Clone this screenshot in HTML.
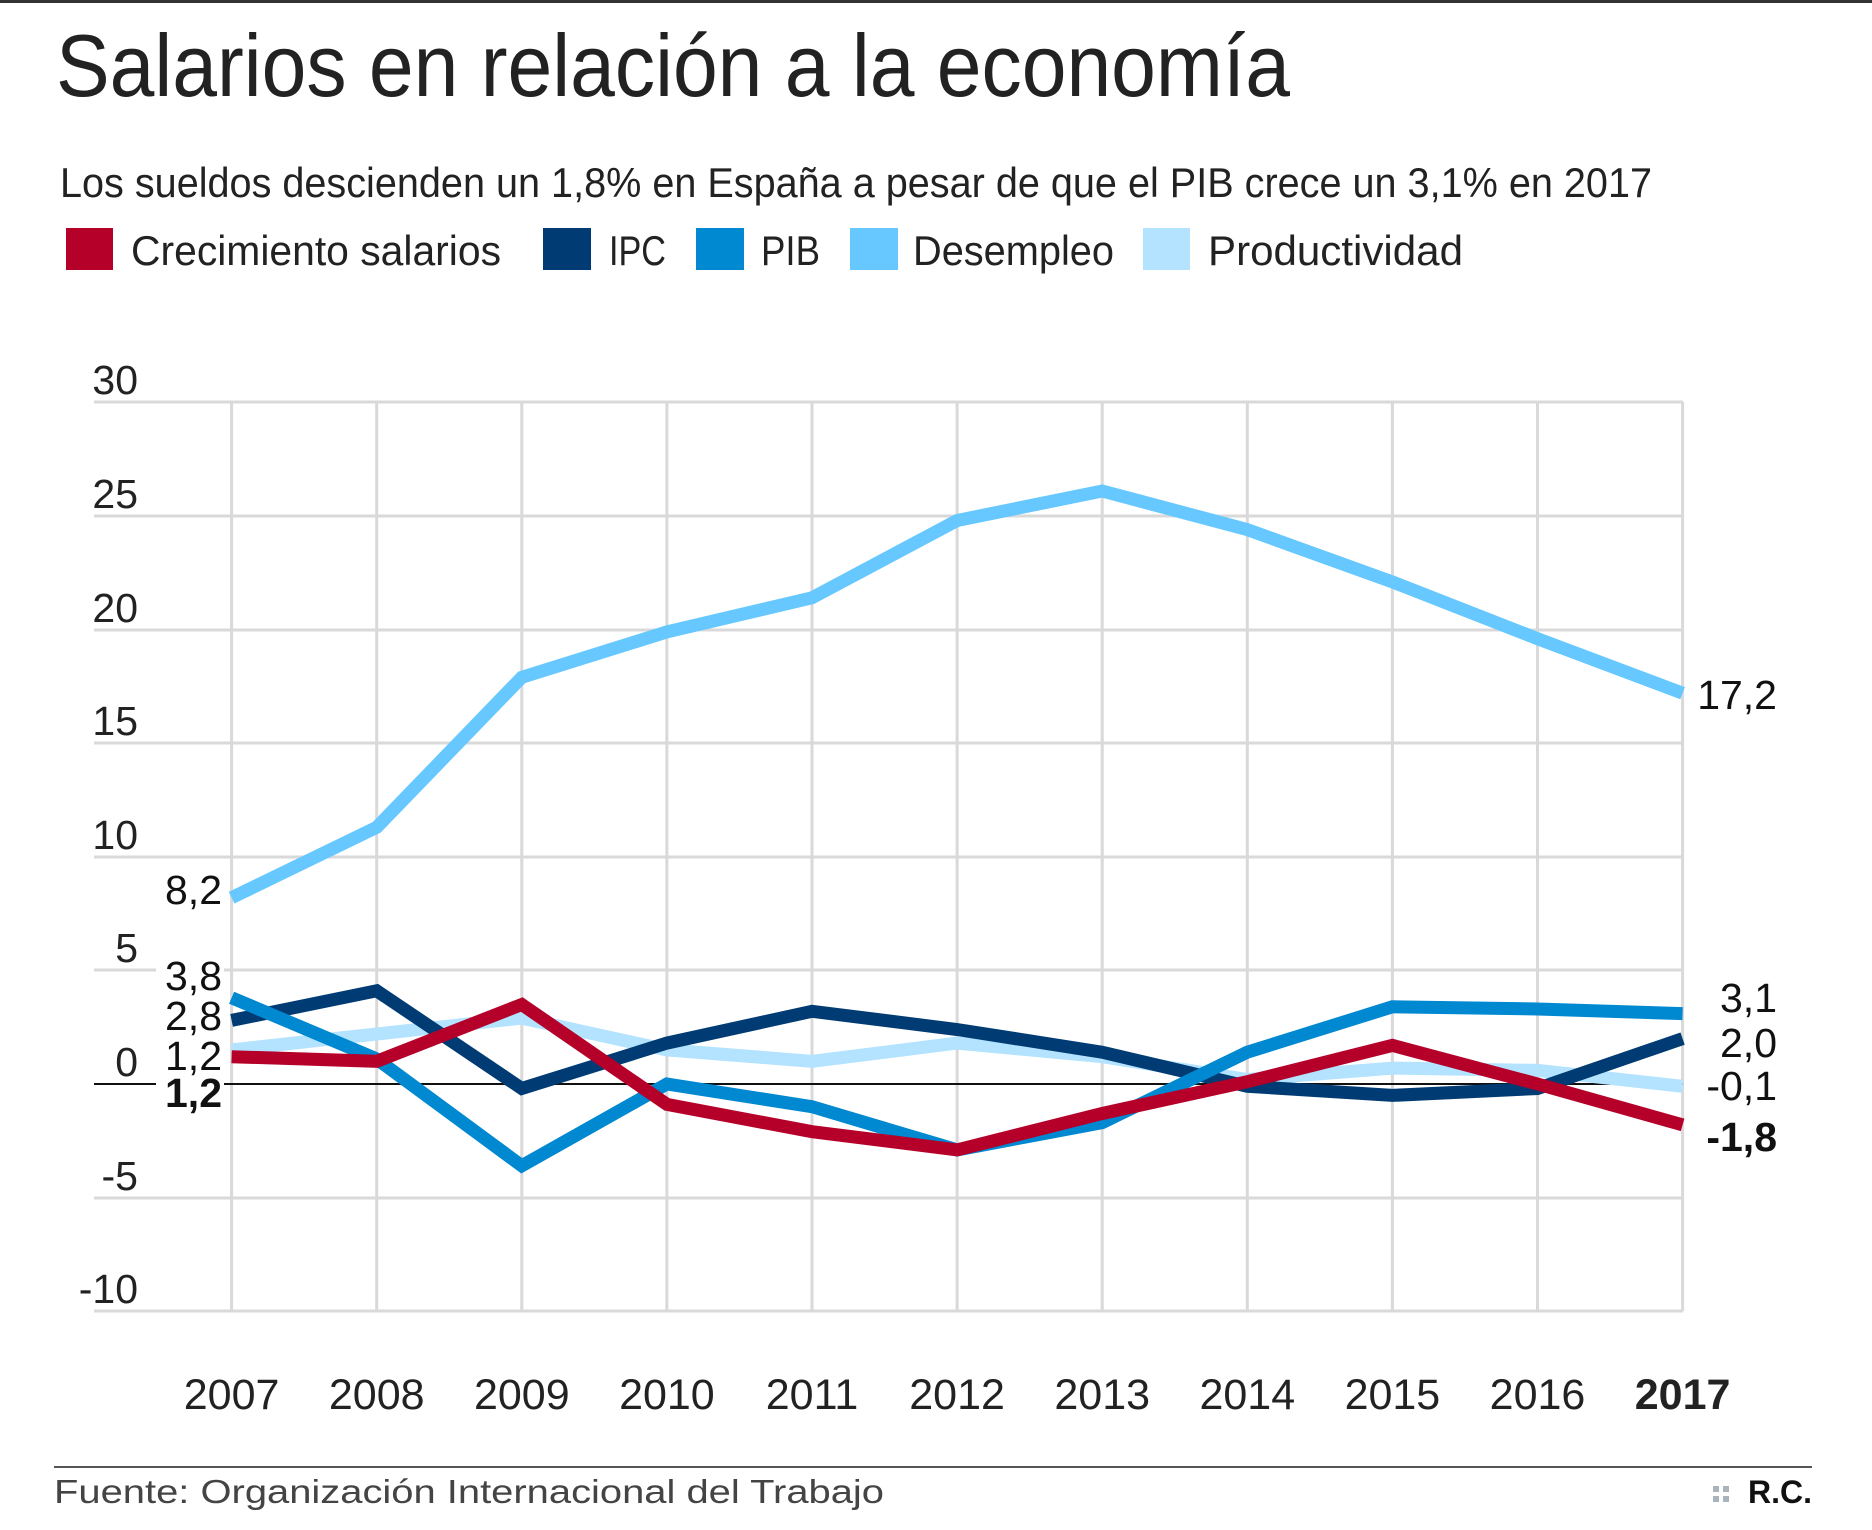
<!DOCTYPE html>
<html><head><meta charset="utf-8"><style>
html,body{margin:0;padding:0;background:#fff}
svg{display:block}
text{font-family:"Liberation Sans",sans-serif}
</style></head><body>
<svg width="1872" height="1530" viewBox="0 0 1872 1530" xmlns="http://www.w3.org/2000/svg">
<rect x="0" y="0" width="1872" height="3" fill="#333"/>
<text x="56" y="96" font-size="88" fill="#222" textLength="1234" lengthAdjust="spacingAndGlyphs">Salarios en relación a la economía</text>
<text x="60" y="197" font-size="42" fill="#222" textLength="1592" lengthAdjust="spacingAndGlyphs">Los sueldos descienden un 1,8% en España a pesar de que el PIB crece un 3,1% en 2017</text>
<g font-size="42" fill="#222">
<rect x="66" y="228" width="47" height="42" fill="#b5002a"/>
<text x="131" y="265" textLength="370" lengthAdjust="spacingAndGlyphs">Crecimiento salarios</text>
<rect x="543" y="228" width="48" height="42" fill="#003b73"/>
<text x="609" y="265" textLength="57" lengthAdjust="spacingAndGlyphs">IPC</text>
<rect x="696" y="228" width="48" height="42" fill="#0088d1"/>
<text x="761" y="265" textLength="59" lengthAdjust="spacingAndGlyphs">PIB</text>
<rect x="850" y="228" width="48" height="42" fill="#66c8ff"/>
<text x="913" y="265" textLength="201" lengthAdjust="spacingAndGlyphs">Desempleo</text>
<rect x="1143" y="228" width="47" height="42" fill="#b3e3ff"/>
<text x="1208" y="265" textLength="255" lengthAdjust="spacingAndGlyphs">Productividad</text>
</g>
<g stroke="#d9d9d9" stroke-width="3">
<line x1="94" y1="402" x2="1683" y2="402"/>
<line x1="94" y1="516" x2="1683" y2="516"/>
<line x1="94" y1="630" x2="1683" y2="630"/>
<line x1="94" y1="743" x2="1683" y2="743"/>
<line x1="94" y1="857" x2="1683" y2="857"/>
<line x1="94" y1="970" x2="156" y2="970"/><line x1="224" y1="970" x2="1683" y2="970"/>
<line x1="94" y1="1198" x2="1683" y2="1198"/>
<line x1="94" y1="1311" x2="1683" y2="1311"/>
<line x1="231.6" y1="402" x2="231.6" y2="1311"/>
<line x1="376.7" y1="402" x2="376.7" y2="1311"/>
<line x1="521.8" y1="402" x2="521.8" y2="1311"/>
<line x1="666.9" y1="402" x2="666.9" y2="1311"/>
<line x1="812" y1="402" x2="812" y2="1311"/>
<line x1="957.1" y1="402" x2="957.1" y2="1311"/>
<line x1="1102.2" y1="402" x2="1102.2" y2="1311"/>
<line x1="1247.3" y1="402" x2="1247.3" y2="1311"/>
<line x1="1392.4" y1="402" x2="1392.4" y2="1311"/>
<line x1="1537.5" y1="402" x2="1537.5" y2="1311"/>
<line x1="1682.6" y1="402" x2="1682.6" y2="1311"/>
</g>
<line x1="94" y1="1084" x2="156" y2="1084" stroke="#111" stroke-width="2"/>
<line x1="224" y1="1084" x2="1683" y2="1084" stroke="#111" stroke-width="2"/>
<g font-size="41" fill="#222" text-anchor="end">
<text x="138" y="394">30</text>
<text x="138" y="508">25</text>
<text x="138" y="622">20</text>
<text x="138" y="735">15</text>
<text x="138" y="849">10</text>
<text x="138" y="962">5</text>
<text x="138" y="1076">0</text>
<text x="138" y="1190">-5</text>
<text x="138" y="1303">-10</text>
</g>
<g fill="none" stroke-width="13" stroke-linejoin="miter">
<polyline stroke="#b3e3ff" points="231.6,1049.9 376.7,1034 521.8,1018.1 666.9,1049.9 812,1061.3 957.1,1043.1 1102.2,1056.7 1247.3,1079.5 1392.4,1068.1 1537.5,1070.4 1682.6,1086.3"/>
<polyline stroke="#66c8ff" points="231.6,897.7 376.7,827.3 521.8,677.3 666.9,631.9 812,597.8 957.1,520.5 1102.2,491 1247.3,529.6 1392.4,581.9 1537.5,638.7 1682.6,693.2"/>
<polyline stroke="#003b73" points="231.6,1020.4 376.7,990.8 521.8,1088.5 666.9,1043.1 812,1011.3 957.1,1029.5 1102.2,1052.2 1247.3,1086.3 1392.4,1095.4 1537.5,1088.5 1682.6,1038.6"/>
<polyline stroke="#0088d1" points="231.6,997.7 376.7,1059 521.8,1165.8 666.9,1084 812,1106.7 957.1,1149.9 1102.2,1122.6 1247.3,1052.2 1392.4,1006.8 1537.5,1009 1682.6,1013.6"/>
<polyline stroke="#b5002a" points="231.6,1056.7 376.7,1061.3 521.8,1004.5 666.9,1104.4 812,1131.7 957.1,1149.9 1102.2,1113.5 1247.3,1081.7 1392.4,1045.4 1537.5,1084 1682.6,1124.9"/>
</g>
<g font-size="41" fill="#111" text-anchor="end">
<text x="222" y="904">8,2</text>
<text x="222" y="990">3,8</text>
<text x="222" y="1030">2,8</text>
<text x="222" y="1070">1,2</text>
<text x="222" y="1107" font-weight="bold">1,2</text>
<text x="1777" y="709">17,2</text>
<text x="1777" y="1012">3,1</text>
<text x="1777" y="1057">2,0</text>
<text x="1777" y="1100">-0,1</text>
<text x="1777" y="1151" font-weight="bold">-1,8</text>
</g>
<g font-size="43" fill="#222" text-anchor="middle">
<text x="231.6" y="1409">2007</text>
<text x="376.7" y="1409">2008</text>
<text x="521.8" y="1409">2009</text>
<text x="666.9" y="1409">2010</text>
<text x="812" y="1409">2011</text>
<text x="957.1" y="1409">2012</text>
<text x="1102.2" y="1409">2013</text>
<text x="1247.3" y="1409">2014</text>
<text x="1392.4" y="1409">2015</text>
<text x="1537.5" y="1409">2016</text>
<text x="1682.6" y="1409" font-weight="bold">2017</text>
</g>
<rect x="54" y="1466" width="1758" height="2" fill="#555"/>
<text x="54" y="1503" font-size="33" fill="#444" textLength="830" lengthAdjust="spacingAndGlyphs">Fuente: Organización Internacional del Trabajo</text>
<g fill="#aab4bd">
<rect x="1713" y="1486" width="6" height="6"/><rect x="1723" y="1486" width="6" height="6"/>
<rect x="1713" y="1496" width="6" height="6"/><rect x="1723" y="1496" width="6" height="6"/>
</g>
<text x="1812" y="1503" font-size="32" font-weight="bold" fill="#111" text-anchor="end">R.C.</text>
</svg>
</body></html>
